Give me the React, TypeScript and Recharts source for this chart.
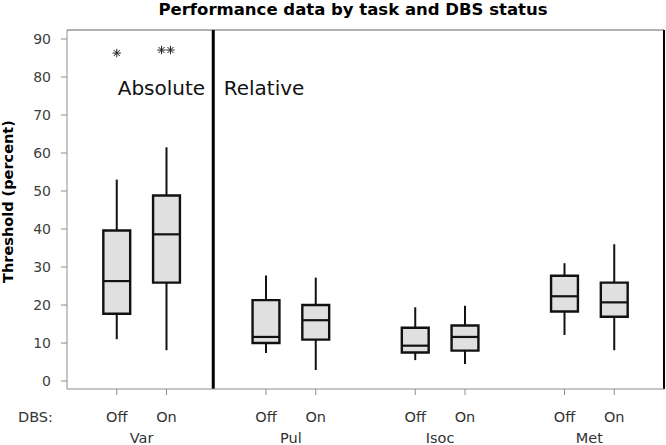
import React from 'react';
import { ComposedChart, XAxis, YAxis, ReferenceArea, ReferenceLine, Scatter } from 'recharts';

// ---- data ----
const categories = ['Var', 'Pul', 'Isoc', 'Met'];
const dbsStates = ['Off', 'On'];
const positions = [1, 2, 4, 5, 7, 8, 10, 11];
const groupCenters = [1.5, 4.5, 7.5, 10.5];
const whiskerLow = [11.0, 8.1, 7.4, 2.9, 5.5, 4.5, 12.1, 8.1];
const quartile1 = [17.7, 25.9, 10.0, 10.9, 7.5, 8.0, 18.3, 16.9];
const medians = [26.3, 38.6, 11.6, 16.0, 9.3, 11.6, 22.3, 20.7];
const quartile3 = [39.6, 48.8, 21.3, 20.0, 14.0, 14.6, 27.7, 25.9];
const whiskerHigh = [53.0, 61.5, 27.8, 27.2, 19.4, 19.8, 31.0, 36.0];
const outlierX = [1, 1.9, 2.08];
const outlierY = [86.3, 87.1, 87.1];
const regionLabels = ['Absolute', 'Relative'];
const regionLabelX = [1.02, 3.15];
const regionLabelY = [75.3, 75.3];
const dividerX = 2.94;
const yTicks = [0, 10, 20, 30, 40, 50, 60, 70, 80, 90];
const xDomain = [0, 12];
const yDomain = [-2.1, 92.37];

const boxes = positions.map((p, i) => ({
  x: p,
  lo: whiskerLow[i],
  q1: quartile1[i],
  med: medians[i],
  q3: quartile3[i],
  hi: whiskerHigh[i],
}));
const outliers = outlierX.map((x, i) => ({ x, y: outlierY[i] }));
const annotations = regionLabels.map((t, i) => ({ x: regionLabelX[i], y: regionLabelY[i], label: t }));
const groupAnchors = groupCenters.map((x, i) => ({ x, y: medians[i * 2], name: categories[i] }));

const FONT = '"DejaVu Sans", Verdana, sans-serif';
const BOX_HALF = 0.27;
const DARK = '#111';

const Asterisk = (props: any) => {
  const { cx, cy } = props;
  const r = 4.2;
  const d = r * 0.72;
  return (
    <g stroke="#222" strokeWidth={1}>
      <line x1={cx - r} y1={cy} x2={cx + r} y2={cy} />
      <line x1={cx} y1={cy - r} x2={cx} y2={cy + r} />
      <line x1={cx - d} y1={cy - d} x2={cx + d} y2={cy + d} />
      <line x1={cx - d} y1={cy + d} x2={cx + d} y2={cy - d} />
    </g>
  );
};

const AnnotationText = (props: any) => {
  const { cx, cy, payload } = props;
  return (
    <text x={cx} y={cy} fontSize={20} fontFamily={FONT} fill="#111">
      {payload.label}
    </text>
  );
};

const Nothing = () => <g />;

export default function App() {
  return (
    <div style={{ position: 'absolute', left: 0, top: 0, width: 666, height: 445, background: '#fff' }}>
      <ComposedChart width={666} height={445} margin={{ top: 30, right: 2, left: 0, bottom: 0 }}>
        <XAxis
          xAxisId="dbs"
          type="number"
          dataKey="x"
          domain={xDomain}
          ticks={positions}
          interval={0}
          tickFormatter={(v: number, i: number) => dbsStates[i % 2]}
          height={30}
          tickSize={6}
          tickMargin={17}
          stroke="#8c8c8c"
          tick={{ fill: '#333', fontSize: 14.5, fontFamily: FONT }}
          allowDataOverflow
        />
        <XAxis
          xAxisId="grp"
          type="number"
          dataKey="x"
          domain={xDomain}
          ticks={groupCenters}
          interval={0}
          tickFormatter={(v: number, i: number) => categories[i]}
          height={26}
          axisLine={false}
          tickLine={false}
          tickSize={0}
          tickMargin={14}
          tick={{ fill: '#333', fontSize: 14.5, fontFamily: FONT }}
          allowDataOverflow
        />
        <YAxis
          yAxisId="y"
          type="number"
          dataKey="y"
          domain={yDomain}
          ticks={yTicks}
          interval={0}
          width={67}
          tickSize={6}
          tickMargin={10}
          stroke="#8c8c8c"
          tick={{ fill: '#404040', fontSize: 14, fontFamily: FONT }}
          allowDataOverflow
        />
        <ReferenceLine xAxisId="dbs" yAxisId="y" y={yDomain[1]} stroke="#999" strokeWidth={1.5} ifOverflow="visible" />
        <ReferenceLine xAxisId="dbs" yAxisId="y" x={xDomain[1]} stroke="#000" strokeWidth={2} ifOverflow="visible" />
        <ReferenceLine xAxisId="dbs" yAxisId="y" x={dividerX} stroke="#000" strokeWidth={3} ifOverflow="visible" />
        {boxes.map((b, i) => (
          <ReferenceLine
            key={'wu' + i}
            xAxisId="dbs"
            yAxisId="y"
            segment={[{ x: b.x, y: b.q3 }, { x: b.x, y: b.hi }]}
            stroke={DARK}
            strokeWidth={2}
            ifOverflow="visible"
          />
        ))}
        {boxes.map((b, i) => (
          <ReferenceLine
            key={'wl' + i}
            xAxisId="dbs"
            yAxisId="y"
            segment={[{ x: b.x, y: b.lo }, { x: b.x, y: b.q1 }]}
            stroke={DARK}
            strokeWidth={2}
            ifOverflow="visible"
          />
        ))}
        {boxes.map((b, i) => (
          <ReferenceArea
            key={'bx' + i}
            xAxisId="dbs"
            yAxisId="y"
            x1={b.x - BOX_HALF}
            x2={b.x + BOX_HALF}
            y1={b.q1}
            y2={b.q3}
            fill="#e0e0e0"
            fillOpacity={1}
            stroke={DARK}
            strokeWidth={2.4}
            strokeOpacity={1}
            ifOverflow="visible"
          />
        ))}
        {boxes.map((b, i) => (
          <ReferenceLine
            key={'md' + i}
            xAxisId="dbs"
            yAxisId="y"
            segment={[{ x: b.x - BOX_HALF, y: b.med }, { x: b.x + BOX_HALF, y: b.med }]}
            stroke={DARK}
            strokeWidth={2.2}
            ifOverflow="visible"
          />
        ))}
        <Scatter
          xAxisId="grp"
          yAxisId="y"
          data={groupAnchors}
          dataKey="y"
          shape={Nothing}
          isAnimationActive={false}
        />
        <Scatter
          xAxisId="dbs"
          yAxisId="y"
          data={outliers}
          dataKey="y"
          shape={Asterisk}
          isAnimationActive={false}
        />
        <Scatter
          xAxisId="dbs"
          yAxisId="y"
          data={annotations}
          dataKey="y"
          shape={AnnotationText}
          isAnimationActive={false}
        />
      </ComposedChart>
      <svg
        width={666}
        height={445}
        style={{ position: 'absolute', left: 0, top: 0, pointerEvents: 'none' }}
      >
        <text x={353} y={15} textAnchor="middle" fontSize={16.5} fontWeight="bold" fontFamily={FONT} fill="#000">
          Performance data by task and DBS status
        </text>
        <text
          x={13}
          y={201.5}
          textAnchor="middle"
          fontSize={14.5}
          fontWeight="bold"
          fontFamily={FONT}
          fill="#000"
          transform="rotate(-90 13 201.5)"
        >
          Threshold (percent)
        </text>
        <text x={18} y={422} fontSize={14.5} fontFamily={FONT} fill="#333">
          DBS:
        </text>
      </svg>
    </div>
  );
}
